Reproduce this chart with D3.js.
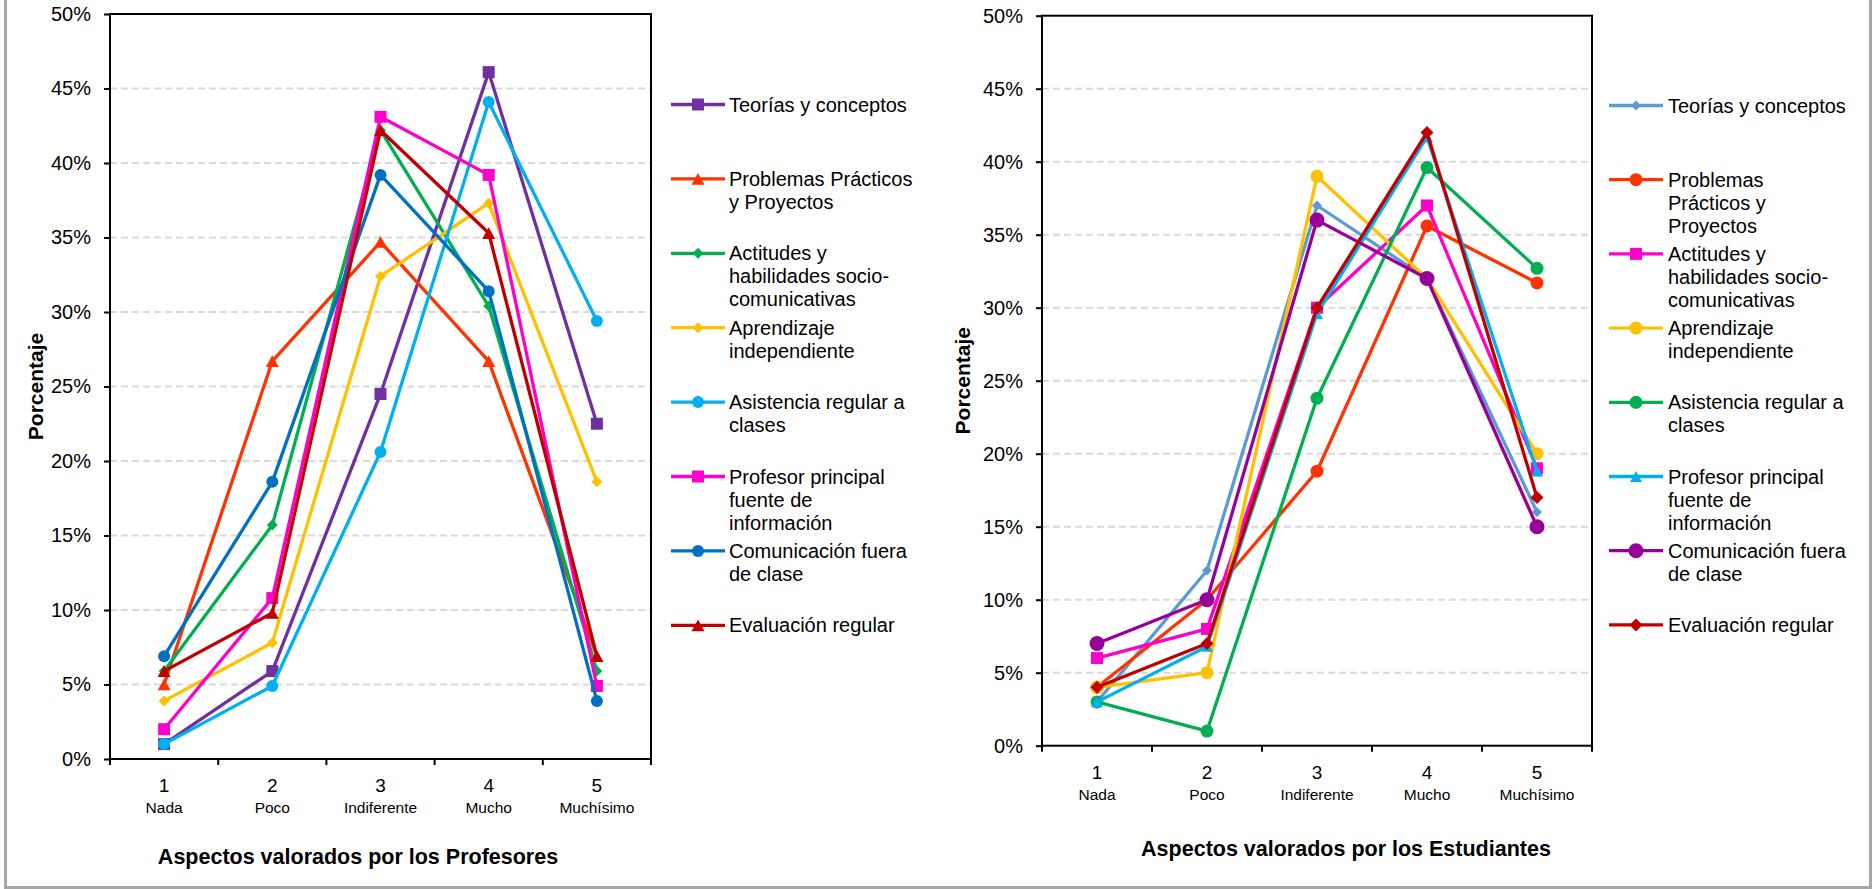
<!DOCTYPE html>
<html>
<head>
<meta charset="utf-8">
<script src="https://cdn.jsdelivr.net/npm/d3@7"></script>
<style>
  html, body { margin: 0; padding: 0; background: #ffffff; }
  svg { display: block; font-family: "Liberation Sans", Arial, sans-serif; }
</style>
</head>
<body>
<svg id="chart" width="1872" height="889"></svg>
<script>
// ---------------- DATA ----------------
const categories = ["1", "2", "3", "4", "5"];
const categorySubLabels = ["Nada", "Poco", "Indiferente", "Mucho", "Muchísimo"];
const yTickValues = [0, 5, 10, 15, 20, 25, 30, 35, 40, 45, 50];

const yAxisTitle = "Porcentaje";
const profTitle = "Aspectos valorados por los Profesores";
const estTitle = "Aspectos valorados por los Estudiantes";

// Profesores (left chart)
const profNames = [
  "Teorías y conceptos",
  "Problemas Prácticos\ny Proyectos",
  "Actitudes y\nhabilidades socio-\ncomunicativas",
  "Aprendizaje\nindependiente",
  "Asistencia regular a\nclases",
  "Profesor principal\nfuente de\ninformación",
  "Comunicación fuera\nde clase",
  "Evaluación regular"
];
const profTeorias      = [1.0, 5.9, 24.5, 46.1, 22.5];
const profProblemas    = [5.0, 26.7, 34.7, 26.7, 6.9];
const profActitudes    = [5.9, 15.7, 42.2, 30.4, 5.9];
const profAprendizaje  = [3.9, 7.8, 32.4, 37.3, 18.6];
const profAsistencia   = [1.0, 4.9, 20.6, 44.1, 29.4];
const profProfesor     = [2.0, 10.8, 43.1, 39.2, 4.9];
const profComunicacion = [6.9, 18.6, 39.2, 31.4, 3.9];
const profEvaluacion   = [5.9, 9.8, 42.2, 35.3, 6.9];

// Estudiantes (right chart)
const estNames = [
  "Teorías y conceptos",
  "Problemas\nPrácticos y\nProyectos",
  "Actitudes y\nhabilidades socio-\ncomunicativas",
  "Aprendizaje\nindependiente",
  "Asistencia regular a\nclases",
  "Profesor principal\nfuente de\ninformación",
  "Comunicación fuera\nde clase",
  "Evaluación regular"
];
const estTeorias      = [3, 12, 37, 32, 16];
const estProblemas    = [4, 10, 18.8, 35.6, 31.7];
const estActitudes    = [6, 8, 30, 37, 19];
const estAprendizaje  = [4, 5, 39, 32, 20];
const estAsistencia   = [3, 1, 23.8, 39.6, 32.7];
const estProfesor     = [3, 6.8, 29.6, 41.7, 18.8];
const estComunicacion = [7, 10, 36, 32, 15];
const estEvaluacion   = [4, 7, 30, 42, 17];

// ---------------- STYLE ----------------
const profStyles = [
  { color: "#7030A0", shape: "square",   size: 12 },
  { color: "#FF3300", shape: "triangle", size: 13 },
  { color: "#00B050", shape: "diamond",  size: 11 },
  { color: "#FFC000", shape: "diamond",  size: 11 },
  { color: "#00B0F0", shape: "circle",   size: 12 },
  { color: "#FF00CC", shape: "square",   size: 12 },
  { color: "#0070C0", shape: "circle",   size: 12 },
  { color: "#C00000", shape: "triangle", size: 13 }
];
const estStyles = [
  { color: "#5B9BD5", shape: "diamond",  size: 10 },
  { color: "#FF3300", shape: "circle",   size: 13 },
  { color: "#FF00CC", shape: "square",   size: 12 },
  { color: "#FFC000", shape: "circle",   size: 13 },
  { color: "#00B050", shape: "circle",   size: 13 },
  { color: "#00B0F0", shape: "triangle", size: 12 },
  { color: "#990099", shape: "circle",   size: 15 },
  { color: "#C00000", shape: "diamond",  size: 13 }
];

const profSeries = [profTeorias, profProblemas, profActitudes, profAprendizaje,
  profAsistencia, profProfesor, profComunicacion, profEvaluacion];
const estSeries = [estTeorias, estProblemas, estActitudes, estAprendizaje,
  estAsistencia, estProfesor, estComunicacion, estEvaluacion];

const svg = d3.select("#chart");
svg.append("rect").attr("x", 0).attr("y", 0).attr("width", 1872).attr("height", 889).attr("fill", "#fff");

function markerPath(shape, s) {
  const h = s / 2;
  if (shape === "square") return `M${-h},${-h}H${h}V${h}H${-h}Z`;
  if (shape === "diamond") return `M0,${-h}L${h},0L0,${h}L${-h},0Z`;
  if (shape === "triangle") { const t = s * 0.45; return `M0,${-t}L${h},${t}L${-h},${t}Z`; }
  return d3.symbol().type(d3.symbolCircle).size(Math.PI * h * h)();
}

function drawChart(cfg) {
  const g = svg.append("g");
  const x = d3.scaleBand().domain(categories).range([cfg.x0, cfg.x1]).padding(0);
  const y = d3.scaleLinear().domain([0, 50]).range([cfg.yBottom, cfg.yTop]);
  const cx = c => x(c) + x.bandwidth() / 2;

  // gridlines
  g.append("g").selectAll("line")
    .data(yTickValues.filter(v => v > 0 && v < 50))
    .join("line")
    .attr("x1", cfg.x0).attr("x2", cfg.x1)
    .attr("y1", d => y(d)).attr("y2", d => y(d))
    .attr("stroke", "#d9d9d9").attr("stroke-width", 2)
    .attr("stroke-dasharray", "7,4");

  // y axis
  const yAxis = d3.axisLeft(y).tickValues(yTickValues).tickFormat(d => d + "%")
    .tickSize(6).tickPadding(13);
  const ya = g.append("g").attr("transform", `translate(${cfg.x0},0)`).call(yAxis);
  ya.select(".domain").remove();
  ya.selectAll(".tick line").attr("stroke", "#000").attr("stroke-width", 2);
  ya.selectAll(".tick text").attr("font-size", 20).attr("fill", "#000")
    .attr("font-family", '"Liberation Sans", Arial, sans-serif');

  // x ticks at band boundaries
  const edges = categories.map(c => x(c)).concat([cfg.x1]);
  g.append("g").selectAll("line").data(edges).join("line")
    .attr("x1", d => d).attr("x2", d => d)
    .attr("y1", cfg.yBottom).attr("y2", cfg.yBottom + 6)
    .attr("stroke", "#000").attr("stroke-width", 2);

  // category labels
  g.append("g").selectAll("text").data(categories).join("text")
    .attr("x", d => cx(d)).attr("y", cfg.yBottom + 33)
    .attr("text-anchor", "middle").attr("font-size", 19).attr("fill", "#000")
    .text(d => d);
  g.append("g").selectAll("text").data(categorySubLabels).join("text")
    .attr("x", (d, i) => cx(categories[i])).attr("y", cfg.yBottom + 54)
    .attr("text-anchor", "middle").attr("font-size", 15.5).attr("fill", "#000")
    .text(d => d);

  // plot frame
  g.append("rect")
    .attr("x", cfg.x0).attr("y", cfg.yTop)
    .attr("width", cfg.x1 - cfg.x0).attr("height", cfg.yBottom - cfg.yTop)
    .attr("fill", "none").attr("stroke", "#000").attr("stroke-width", 2);

  // series
  const line = d3.line().x((d, i) => cx(categories[i])).y(d => y(d));
  cfg.series.forEach((vals, si) => {
    const st = cfg.styles[si];
    const sg = g.append("g");
    sg.append("path").datum(vals).attr("d", line)
      .attr("fill", "none").attr("stroke", st.color).attr("stroke-width", 3.3)
      .attr("stroke-linejoin", "round").attr("stroke-linecap", "round");
    sg.selectAll("path.m").data(vals).join("path").attr("class", "m")
      .attr("transform", (d, i) => `translate(${cx(categories[i])},${y(d)})`)
      .attr("d", markerPath(st.shape, st.size))
      .attr("fill", st.color);
  });

  // y axis title
  g.append("text")
    .attr("transform", `translate(${cfg.yTitleX},${(cfg.yTop + cfg.yBottom) / 2}) rotate(-90)`)
    .attr("text-anchor", "middle").attr("font-size", 21).attr("font-weight", "bold")
    .attr("fill", "#000").text(yAxisTitle);

  // x axis title
  g.append("text")
    .attr("x", cfg.xTitleX).attr("y", cfg.xTitleY)
    .attr("text-anchor", "middle").attr("font-size", 21.5).attr("font-weight", "bold")
    .attr("fill", "#000").text(cfg.title);

  // legend
  const lg = g.append("g");
  cfg.names.forEach((name, i) => {
    const st = cfg.styles[i];
    const ly = cfg.legendTop + i * cfg.legendStep;
    lg.append("line").attr("x1", cfg.legX0).attr("x2", cfg.legX1)
      .attr("y1", ly).attr("y2", ly).attr("stroke", st.color).attr("stroke-width", 3.3);
    lg.append("path")
      .attr("transform", `translate(${(cfg.legX0 + cfg.legX1) / 2},${ly})`)
      .attr("d", markerPath(st.shape, st.size)).attr("fill", st.color);
    const t = lg.append("text").attr("x", cfg.legTextX).attr("y", ly + 7)
      .attr("font-size", 20).attr("fill", "#000");
    name.split("\n").forEach((ln, k) => {
      t.append("tspan").attr("x", cfg.legTextX).attr("dy", k === 0 ? 0 : 23).text(ln);
    });
  });
}

drawChart({
  x0: 110, x1: 651, yTop: 14, yBottom: 759,
  series: profSeries, styles: profStyles, names: profNames,
  title: profTitle, xTitleX: 358, xTitleY: 864, yTitleX: 43,
  legX0: 671, legX1: 725, legTextX: 729, legendTop: 104.5, legendStep: 74.4
});

drawChart({
  x0: 1042, x1: 1592, yTop: 15.7, yBottom: 745.7,
  series: estSeries, styles: estStyles, names: estNames,
  title: estTitle, xTitleX: 1346, xTitleY: 856, yTitleX: 970,
  legX0: 1609, legX1: 1663, legTextX: 1668, legendTop: 105.5, legendStep: 74.2
});

// outer gray frame (left, right, bottom)
svg.append("path")
  .attr("d", "M5.5,0V887.5H1870.5V0")
  .attr("fill", "none").attr("stroke", "#a6a6a6").attr("stroke-width", 3);
</script>
</body>
</html>
